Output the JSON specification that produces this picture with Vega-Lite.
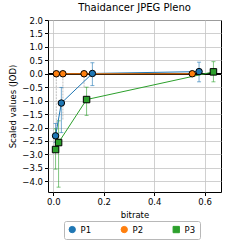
{
  "$schema": "https://vega.github.io/schema/vega-lite/v6.json",
  "width": 173,
  "height": 172,
  "autosize": "none",
  "padding": {"left": 48, "top": 20, "right": 20, "bottom": 49},
  "background": "white",
  "config": {
    "font": "DejaVu Sans",
    "view": {"stroke": "black", "strokeWidth": 1},
    "axis": {
      "domain": false,
      "grid": true,
      "gridColor": "#c4c4c4",
      "gridWidth": 0.8,
      "tickColor": "black",
      "tickSize": 3.5,
      "labelColor": "black",
      "labelFontSize": 8.5,
      "labelOverlap": false,
      "labelFlush": false,
      "titleFontSize": 8.5,
      "titleFontWeight": "normal",
      "titleColor": "black",
      "labelPadding": 2
    },
    "legend": {
      "labelFontSize": 8.5,
      "labelColor": "black",
      "symbolStrokeColor": "black",
      "symbolStrokeWidth": 1,
      "symbolSize": 40,
      "symbolOpacity": 1,
      "strokeColor": "#b8b8b8",
      "fillColor": "white",
      "cornerRadius": 2,
      "padding": 4
    },
    "title": {"fontSize": 10, "fontWeight": "normal", "color": "black", "offset": 3}
  },
  "title": "Thaidancer JPEG Pleno",
  "data": {
    "values": [
      {"series": "P1", "x": 0.009, "y": -2.31, "lo": -2.55, "hi": -1.85},
      {"series": "P1", "x": 0.032, "y": -1.09, "lo": -2.19, "hi": -0.51},
      {"series": "P1", "x": 0.155, "y": 0.01, "lo": -0.44, "hi": 0.41},
      {"series": "P1", "x": 0.578, "y": 0.08, "lo": -0.3, "hi": 0.43},
      {"series": "P2", "x": 0.012, "y": 0.0, "lo": -2.4, "hi": 0.0},
      {"series": "P2", "x": 0.038, "y": 0.0, "lo": -1.7, "hi": 0.0},
      {"series": "P2", "x": 0.122, "y": 0.0, "lo": -0.5, "hi": 0.0},
      {"series": "P2", "x": 0.551, "y": 0.0, "lo": -0.05, "hi": 0.05},
      {"series": "P3", "x": 0.009, "y": -2.82, "lo": -3.55, "hi": -2.05},
      {"series": "P3", "x": 0.021, "y": -2.56, "lo": -4.22, "hi": -1.75},
      {"series": "P3", "x": 0.132, "y": -0.96, "lo": -1.55, "hi": -0.5},
      {"series": "P3", "x": 0.635, "y": 0.07, "lo": -0.3, "hi": 0.45}
    ]
  },
  "encoding": {
    "x": {
      "field": "x", "type": "quantitative",
      "scale": {"domain": [-0.021, 0.665], "nice": false, "zero": false},
      "axis": {"values": [0, 0.2, 0.4, 0.6], "format": ".1f", "title": "bitrate"}
    }
  },
  "layer": [
    {
      "mark": {"type": "rule", "color": "black", "strokeWidth": 1.2},
      "encoding": {
        "x": null,
        "y": {
          "datum": 0, "type": "quantitative",
          "scale": {"domain": [-4.4, 2.0], "nice": false, "zero": false},
          "axis": {"values": [-4, -3.5, -3, -2.5, -2, -1.5, -1, -0.5, 0, 0.5, 1, 1.5, 2], "format": ".1f", "title": "Scaled values (JOD)"}
        }
      }
    },
    {
      "transform": [{"filter": "datum.series === 'P2'"}],
      "mark": {"type": "rule", "color": "#c8c8c8", "strokeWidth": 1.2, "strokeDash": [2, 1]},
      "encoding": {
        "y": {"field": "lo", "type": "quantitative", "axis": {"values": [-4, -3.5, -3, -2.5, -2, -1.5, -1, -0.5, 0, 0.5, 1, 1.5, 2], "format": ".1f", "title": "Scaled values (JOD)"}},
        "y2": {"field": "hi"}
      }
    },
    {
      "transform": [{"filter": "datum.series !== 'P2'"}],
      "mark": {"type": "rule", "strokeWidth": 1, "opacity": 0.6},
      "encoding": {
        "y": {"field": "lo", "type": "quantitative", "axis": {"values": [-4, -3.5, -3, -2.5, -2, -1.5, -1, -0.5, 0, 0.5, 1, 1.5, 2], "format": ".1f", "title": "Scaled values (JOD)"}},
        "y2": {"field": "hi"},
        "color": {
          "field": "series", "type": "nominal",
          "scale": {"domain": ["P1", "P2", "P3"], "range": ["#1f77b4", "#ff7f0e", "#2ca02c"]},
          "legend": {
            "title": null,
            "orient": "none",
            "direction": "horizontal",
            "legendX": 16,
            "legendY": 201,
            "columnPadding": 27,
            "strokeColor": "#b8b8b8",
            "fillColor": "white",
            "cornerRadius": 2,
            "padding": 4
          }
        }
      }
    },
    {
      "transform": [{"filter": "datum.series !== 'P2'"}],
      "mark": {"type": "tick", "orient": "horizontal", "size": 4, "thickness": 1, "opacity": 0.6},
      "encoding": {
        "y": {"field": "lo", "type": "quantitative", "axis": {"values": [-4, -3.5, -3, -2.5, -2, -1.5, -1, -0.5, 0, 0.5, 1, 1.5, 2], "format": ".1f", "title": "Scaled values (JOD)"}},
        "color": {"field": "series", "type": "nominal"}
      }
    },
    {
      "transform": [{"filter": "datum.series !== 'P2'"}],
      "mark": {"type": "tick", "orient": "horizontal", "size": 4, "thickness": 1, "opacity": 0.6},
      "encoding": {
        "y": {"field": "hi", "type": "quantitative", "axis": {"values": [-4, -3.5, -3, -2.5, -2, -1.5, -1, -0.5, 0, 0.5, 1, 1.5, 2], "format": ".1f", "title": "Scaled values (JOD)"}},
        "color": {"field": "series", "type": "nominal"}
      }
    },
    {
      "mark": {"type": "line", "strokeWidth": 1},
      "encoding": {
        "y": {"field": "y", "type": "quantitative", "axis": {"values": [-4, -3.5, -3, -2.5, -2, -1.5, -1, -0.5, 0, 0.5, 1, 1.5, 2], "format": ".1f", "title": "Scaled values (JOD)"}},
        "color": {"field": "series", "type": "nominal"},
        "order": {"field": "x"}
      }
    },
    {
      "mark": {"type": "point", "filled": true, "stroke": "black", "strokeWidth": 1, "size": 42, "opacity": 1},
      "encoding": {
        "y": {"field": "y", "type": "quantitative", "axis": {"values": [-4, -3.5, -3, -2.5, -2, -1.5, -1, -0.5, 0, 0.5, 1, 1.5, 2], "format": ".1f", "title": "Scaled values (JOD)"}},
        "color": {"field": "series", "type": "nominal"},
        "shape": {
          "field": "series", "type": "nominal",
          "scale": {"domain": ["P1", "P2", "P3"], "range": ["circle", "circle", "square"]},
          "legend": {
            "title": null,
            "orient": "none",
            "direction": "horizontal",
            "legendX": 16,
            "legendY": 201,
            "columnPadding": 27,
            "strokeColor": "#b8b8b8",
            "fillColor": "white",
            "cornerRadius": 2,
            "padding": 4
          }
        }
      }
    }
  ]
}
